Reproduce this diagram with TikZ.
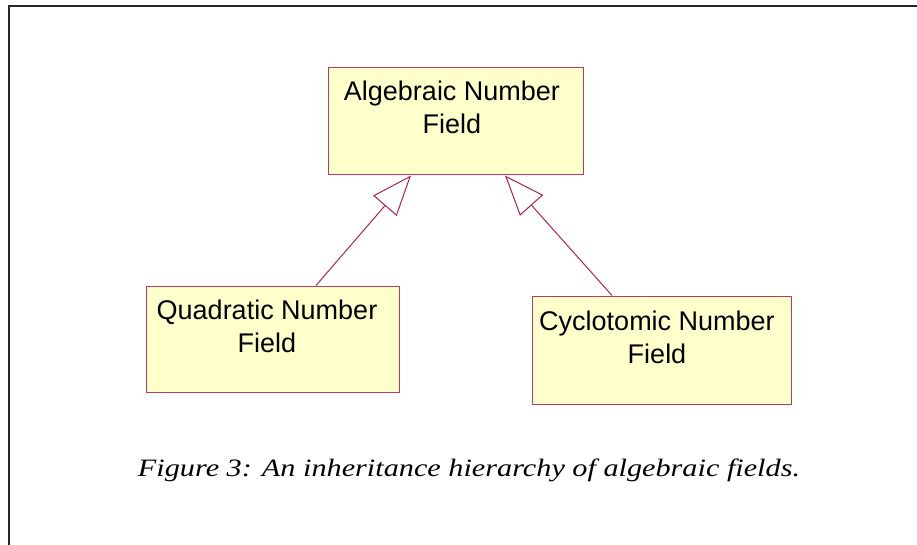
\documentclass[tikz,border=0pt]{standalone}
\usepackage{fontspec}
\usepackage{graphicx}
\setmainfont{Liberation Serif}
\setsansfont{Liberation Sans}
\usetikzlibrary{arrows.meta}
\definecolor{umlline}{RGB}{170,35,75}
\definecolor{umlborder}{RGB}{185,60,95}
\definecolor{umlfill}{RGB}{255,255,204}
\tikzset{
  classbox/.style={draw=umlborder, line width=1pt, fill=umlfill, inner sep=0pt, anchor=center},
  classtext/.style={font=\sffamily\fontsize{27}{33}\selectfont, align=center, inner sep=0pt, anchor=north},
  inherit/.style={draw=umlline, line width=1pt, -{Triangle[open, length=40pt, width=31pt, fill=white]}},
  frameline/.style={draw=black!85, line width=2pt}
}
\begin{document}
\begin{tikzpicture}[x=1pt, y=-1pt]
\useasboundingbox (0,0) rectangle (917,545);
% frame
\coordinate (fbl) at (9.3,545);
\coordinate (ftl) at (9.3,6);
\coordinate (ftr) at (917,6);
\draw[frameline] (fbl) -- (ftl) -- (ftr);
% boxes
\node[classbox, minimum width=255pt, minimum height=107pt] (alg) at (455.5,121.5) {};
\node[classbox, minimum width=253pt, minimum height=106pt] (quad) at (272.5,339) {};
\node[classbox, minimum width=259pt, minimum height=108pt] (cyc) at (661.5,350) {};
% texts
\node[classtext] (algt) at (452,81) {Algebraic Number\\Field};
\node[classtext] (quadt) at (267,300) {Quadratic Number\\Field};
\node[classtext] (cyct) at (657,311) {Cyclotomic Number\\Field};
% inheritance
\draw[inherit] ([xshift=43.5pt]quad.north) -- ([xshift=-44.5pt]alg.south);
\draw[inherit] ([xshift=-49.5pt]cyc.north) -- ([xshift=49.5pt]alg.south);
% caption
\node[inner sep=0pt, anchor=base] (cap) at (469,476) {\resizebox{662pt}{\height}{\fontsize{25}{29}\selectfont\itshape Figure 3: An inheritance hierarchy of algebraic fields.}};
\end{tikzpicture}
\end{document}
